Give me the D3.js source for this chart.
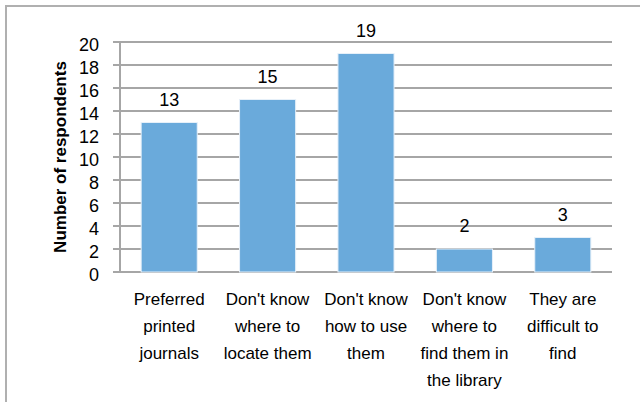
<!DOCTYPE html>
<html><head><meta charset="utf-8">
<script src="https://cdn.jsdelivr.net/npm/d3@7"></script>
<style>body{margin:0;background:#fff}svg{display:block}text{font-family:"Liberation Sans",Arial,sans-serif}</style>
</head><body>
<svg id="c" width="640" height="402"></svg>
<script>
const categories = [
  ["Preferred","printed","journals"],
  ["Don't know","where to","locate them"],
  ["Don't know","how to use","them"],
  ["Don't know","where to","find them in","the library"],
  ["They are","difficult to","find"]
];
const values = [13, 15, 19, 2, 3];
const yTicks = [0,2,4,6,8,10,12,14,16,18,20];
const yTitle = "Number of respondents";

const svg = d3.select("#c");
const W=640,H=402;
const m = {left:120, right:28, top:42, bottom:130};
const pw = W-m.left-m.right, ph = H-m.top-m.bottom;

// outer frame
svg.append("rect").attr("x",6).attr("y",6).attr("width",W).attr("height",H)
  .attr("fill","none").attr("stroke","#b0b0b0").attr("stroke-width",2);

const g = svg.append("g").attr("transform",`translate(${m.left},${m.top})`);
const x = d3.scaleBand().domain(d3.range(values.length)).range([0,pw]).paddingInner(0.43).paddingOuter(0.215);
const y = d3.scaleLinear().domain([0,20]).range([ph,0]);

// gridlines
g.append("g").selectAll("line").data(yTicks).join("line")
  .attr("x1",-7).attr("x2",pw).attr("y1",d=>y(d)).attr("y2",d=>y(d))
  .attr("stroke","#a6a6a6").attr("stroke-width",2);
// y axis line
g.append("line").attr("x1",0).attr("x2",0).attr("y1",0).attr("y2",ph)
  .attr("stroke","#a6a6a6").attr("stroke-width",2);

// y tick labels via axis
const ya = g.append("g").call(d3.axisLeft(y).tickValues(yTicks).tickSize(0).tickPadding(21));
ya.select(".domain").remove();
ya.selectAll("text").attr("font-size",18).attr("fill","#000").attr("font-family","Liberation Sans, Arial, sans-serif").attr("dy","0.45em");

// bars
g.selectAll("rect.bar").data(values).join("rect").attr("class","bar")
  .attr("x",(d,i)=>x(i)).attr("width",x.bandwidth())
  .attr("y",d=>y(d)).attr("height",d=>ph-y(d))
  .attr("fill","#6aaadb").attr("stroke","#e6f0f9").attr("stroke-width",1);

// value labels
g.selectAll("text.val").data(values).join("text").attr("class","val")
  .attr("x",(d,i)=>x(i)+x.bandwidth()/2).attr("y",d=>y(d)-17)
  .attr("text-anchor","middle").attr("font-size",18).attr("fill","#000").text(d=>d);

// category labels
categories.forEach((lines,i)=>{
  const t = g.append("text").attr("text-anchor","middle").attr("font-size",17).attr("fill","#000")
    .attr("transform",`translate(${x(i)+x.bandwidth()/2},${ph+33})`);
  lines.forEach((l,j)=>t.append("tspan").attr("x",0).attr("y",j*27).text(l));
});

// y title
svg.append("text").attr("transform",`translate(66,${m.top+ph/2}) rotate(-90)`)
  .attr("text-anchor","middle").attr("font-size",17).attr("font-weight","bold").attr("fill","#000").text(yTitle);
</script>
</body></html>
